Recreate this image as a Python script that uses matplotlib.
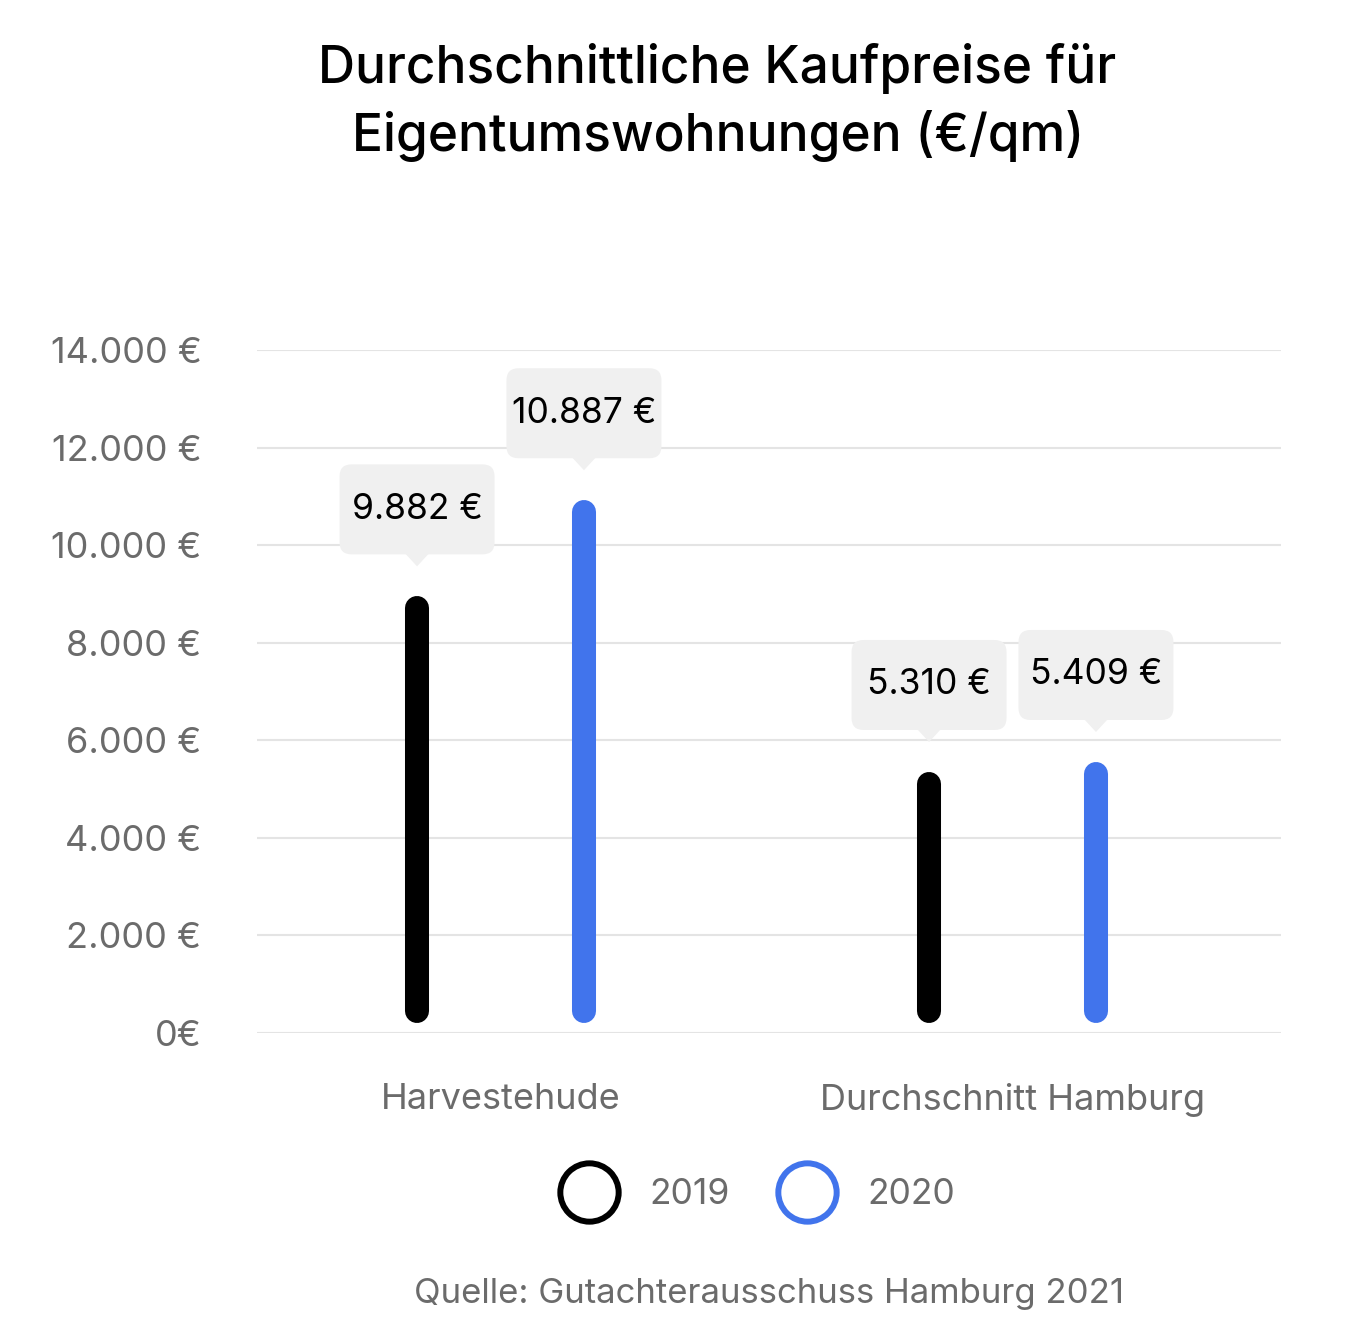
import numpy as np
import matplotlib.pyplot as plt
import matplotlib.transforms as mtransforms
from matplotlib.patches import FancyBboxPatch, Polygon
from matplotlib.lines import Line2D

plt.rcParams["font.family"] = ["Inter", "DejaVu Sans"]

categories = ["Harvestehude", "Durchschnitt Hamburg"]
years = ["2019", "2020"]
# values written in the boxes
labels_2019 = [9882, 5310]
labels_2020 = [10887, 5409]
# bar tops as drawn in the picture
heights_2019 = [8950, 5350]
heights_2020 = [10920, 5555]
yticks = [0, 2000, 4000, 6000, 8000, 10000, 12000, 14000]

colors = ["#000000", "#4174EC"]
grey = "#6B6B6B"

def euro(v):
  if v == 0:
    return "0€"
  return f"{v:,}".replace(",", ".") + " €"

fig = plt.figure(figsize=(13.68, 13.42), dpi=100)
ax = fig.add_axes([257/1368, 1 - 1033/1342, 1024/1368, 683/1342])

ax.set_ylim(0, 14000)
ax.set_xlim(-0.4756, 1.5244)
for s in ax.spines.values():
  s.set_visible(False)
ax.set_yticks(yticks)
ax.set_yticklabels([euro(v) for v in yticks])
ax.tick_params(axis="y", length=0, pad=40, labelsize=26, labelcolor=grey)
for v in yticks:
  ax.axhline(v, color="#E4E4E4", lw=1.5, zorder=0)

x = np.arange(len(categories))
ax.set_xticks(x)
ax.set_xticklabels(categories)
ax.tick_params(axis="x", length=0, pad=36, labelsize=26, labelcolor=grey)

offset = 0.163
px = 14000 / 683.0  # data units per pixel
cap = 12 * px
base = 10 * px

def draw_label(xp, ytop, text):
  trans = fig.dpi_scale_trans + mtransforms.ScaledTranslation(xp, ytop, ax.transData)
  # tip sits ~30px above the bar top
  box = FancyBboxPatch((-0.775, 0.42), 1.55, 0.90, boxstyle="round,pad=0,rounding_size=0.12",
                       transform=trans, facecolor="#F0F0F0", edgecolor="none", zorder=3)
  tri = Polygon([(-0.12, 0.43), (0.12, 0.43), (0, 0.30)], closed=True, transform=trans,
                facecolor="#F0F0F0", edgecolor="none", zorder=3)
  ax.add_patch(box)
  ax.add_patch(tri)
  ax.text(0, 0.87, text, transform=trans, ha="center", va="center", fontsize=25.5,
          color="black", zorder=4)

for i, (heights, labels) in enumerate([(heights_2019, labels_2019), (heights_2020, labels_2020)]):
  for j in range(len(categories)):
    xp = x[j] + (2*i - 1) * offset
    ax.plot([xp, xp], [base + cap, heights[j] - cap], color=colors[i], lw=17.3,
            solid_capstyle="round", zorder=2)
    draw_label(xp, heights[j], euro(labels[j]))

fig.text(717/1368, 1 - 68/1342, "Durchschnittliche Kaufpreise für", ha="center", va="center",
         fontsize=37, fontweight="medium", color="black")
fig.text(718/1368, 1 - 136/1342, "Eigentumswohnungen (€/qm)", ha="center", va="center",
         fontsize=37, fontweight="medium", color="black")

handles = [Line2D([], [], ls="none", marker="o", markersize=42, markerfacecolor="white",
                  markeredgecolor=c, markeredgewidth=4.3) for c in colors]
leg = fig.legend(handles, years, loc="center", bbox_to_anchor=(756/1368, 1 - 1195/1342), ncol=2,
                 frameon=False, fontsize=25.5, handlelength=1.8, handletextpad=0.8,
                 columnspacing=1.3, borderpad=0)
for t in leg.get_texts():
  t.set_color(grey)

fig.text(769/1368, 1 - 1294/1342, "Quelle: Gutachterausschuss Hamburg 2021", ha="center",
         va="center", fontsize=25, color=grey)

fig.savefig("out.png", dpi=100)
